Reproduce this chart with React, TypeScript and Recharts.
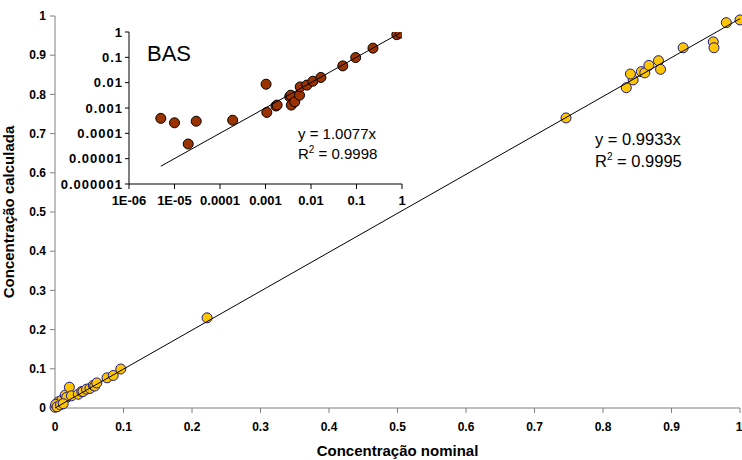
import React from "react"
import { ScatterChart, Scatter, XAxis, YAxis } from "recharts"

// ── Data ──────────────────────────────────────────────────────
// main plot: all compounds, nominal vs calculated
const mainNominal = [
  0, 0.002, 0.005, 0.01, 0.015, 0.017, 0.021, 0.024, 0.034, 0.039, 0.041, 0.046,
  0.051, 0.056, 0.058, 0.061, 0.076, 0.085, 0.096, 0.222, 0.746, 0.834, 0.844,
  0.84, 0.856, 0.861, 0.867, 0.881, 0.884, 0.917, 0.961, 0.962, 0.98, 1.0,
  0.001, 0.003, 0.008, 0.012,
]
const mainCalculated = [
  0.002, 0.007, 0.016, 0.02, 0.033, 0.027, 0.053, 0.031, 0.035, 0.042, 0.042, 0.048,
  0.05, 0.058, 0.056, 0.064, 0.077, 0.083, 0.0995, 0.23, 0.74, 0.817, 0.837,
  0.852, 0.858, 0.855, 0.874, 0.886, 0.864, 0.919, 0.934, 0.919, 0.983, 0.99,
  0.009, 0.003, 0.008, 0.011,
]

// inset: BAS only (log-log)
const basNominal = [
  5e-6, 1e-5, 2e-5, 3e-5, 1.9e-4, 1.03e-3, 1.07e-3, 1.7e-3, 1.8e-3, 3.4e-3, 3.6e-3,
  3.7e-3, 4.4e-3, 5.6e-3, 5.8e-3, 8.1e-3, 0.011, 0.0165, 0.05, 0.096, 0.23, 0.77, 0.92,
]
const basCalculated = [
  3.9e-4, 2.6e-4, 3.8e-5, 3e-4, 3.3e-4, 8.7e-3, 6.7e-4, 1.2e-3, 1.3e-3, 2.8e-3, 3.2e-3,
  1.3e-3, 1.75e-3, 3.2e-3, 6.8e-3, 8e-3, 0.0114, 0.016, 0.046, 0.098, 0.23, 0.785, 0.91,
]

const mainSlope = 0.9933
const basSlope = 1.0077
const mainFitRange = [0, 1]
const basFitRange = [5e-6, 0.92]

const mainTicks = [0, 0.1, 0.2, 0.3, 0.4, 0.5, 0.6, 0.7, 0.8, 0.9, 1]
const logTicks = [1e-6, 1e-5, 1e-4, 1e-3, 1e-2, 1e-1, 1]
const insetXLabels = ["1E-06", "1E-05", "0.0001", "0.001", "0.01", "0.1", "1"]
const insetYLabels = ["0.000001", "0.00001", "0.0001", "0.001", "0.01", "0.1", "1"]

const FONT = "'Liberation Sans', Arial, sans-serif"
const YELLOW = "#FFC600"
const NAVY = "#1A1A8C"
const BROWN = "#9A3300"

const mainData = mainNominal.map((x, i) => ({ x, y: mainCalculated[i] }))
const basData = basNominal.map((x, i) => ({ x, y: basCalculated[i] }))
const mainFit = mainFitRange.map((x) => ({ x, y: x * mainSlope }))
const basFit = basFitRange.map((x) => ({ x, y: x * basSlope }))

const tickStyle = { fontSize: 12, fontWeight: 700, fill: "#000", fontFamily: FONT }
const insetXTickStyle = { fontSize: 13, fontWeight: 700, fill: "#000", fontFamily: FONT }
const insetYTickStyle = { ...insetXTickStyle, letterSpacing: 1 }
const titleStyle = { fontSize: 15, fontWeight: 700, fill: "#000", fontFamily: FONT }

function Dot({ cx, cy, fill, stroke }: { cx?: number; cy?: number; fill: string; stroke: string }) {
  if (cx == null || cy == null) return null
  return <circle cx={cx} cy={cy} r={5} fill={fill} stroke={stroke} strokeWidth={1} />
}

const noShape = () => <g />

export default function App() {
  return (
    <div style={{ position: "absolute", left: 0, top: 0, width: 742, height: 460, background: "#fff", fontFamily: FONT }}>
      {/* ── Main chart ── */}
      <div style={{ position: "absolute", left: 0, top: 0 }}>
        <ScatterChart width={742} height={460} margin={{ top: 16, right: 2, left: 0, bottom: 2 }}>
          <XAxis
            type="number"
            dataKey="x"
            domain={[0, 1]}
            ticks={mainTicks}
            tickFormatter={(v) => String(v)}
            tick={tickStyle}
            tickSize={5}
            tickMargin={9}
            axisLine={{ stroke: "#808080" }}
            tickLine={{ stroke: "#808080" }}
            height={50}
            label={{
              value: "Concentração nominal",
              position: "insideBottom",
              offset: 2,
              style: titleStyle,
            }}
          />
          <YAxis
            type="number"
            dataKey="y"
            domain={[0, 1]}
            ticks={mainTicks}
            tickFormatter={(v) => String(v)}
            tick={tickStyle}
            tickSize={5}
            tickMargin={4}
            axisLine={{ stroke: "#808080" }}
            tickLine={{ stroke: "#808080" }}
            width={55}
            label={{
              value: "Concentração calculada",
              angle: -90,
              position: "insideLeft",
              offset: 9,
              style: { ...titleStyle, textAnchor: "middle" },
            }}
          />
          <Scatter
            data={mainData}
            isAnimationActive={false}
            shape={(p: any) => <Dot cx={p.cx} cy={p.cy} fill={YELLOW} stroke={NAVY} />}
          />
          <Scatter
            data={mainFit}
            isAnimationActive={false}
            line={{ stroke: "#000", strokeWidth: 1 }}
            shape={noShape}
          />
        </ScatterChart>
      </div>

      {/* ── Inset: BAS log-log ── */}
      <div style={{ position: "absolute", left: 0, top: 0 }}>
        <ScatterChart width={420} height={215} margin={{ top: 32, right: 18, left: 59, bottom: 6 }}>
          <XAxis
            type="number"
            dataKey="x"
            scale="log"
            domain={[1e-6, 1]}
            ticks={logTicks}
            allowDataOverflow
            tickFormatter={(v) => insetXLabels[logTicks.indexOf(v)] ?? String(v)}
            tick={insetXTickStyle}
            tickSize={5}
            tickMargin={7}
            interval={0}
            axisLine={{ stroke: "#000" }}
            tickLine={{ stroke: "#000" }}
            height={25}
          />
          <YAxis
            type="number"
            dataKey="y"
            scale="log"
            domain={[1e-6, 1]}
            ticks={logTicks}
            allowDataOverflow
            tickFormatter={(v) => insetYLabels[logTicks.indexOf(v)] ?? String(v)}
            tick={insetYTickStyle}
            tickSize={4}
            tickMargin={2}
            interval={0}
            axisLine={{ stroke: "#000" }}
            tickLine={{ stroke: "#000" }}
            width={70}
          />
          <Scatter
            data={basData}
            isAnimationActive={false}
            shape={(p: any) => <Dot cx={p.cx} cy={p.cy} fill={BROWN} stroke="#000" />}
          />
          <Scatter
            data={basFit}
            isAnimationActive={false}
            line={{ stroke: "#000", strokeWidth: 1 }}
            shape={noShape}
          />
        </ScatterChart>
      </div>

      {/* ── Text annotations ── */}
      <div style={{ position: "absolute", left: 147, top: 41, fontSize: 22 }}>BAS</div>
      <div style={{ position: "absolute", left: 298, top: 124, fontSize: 15, lineHeight: "20px" }}>
        y = 1.0077x
        <br />
        R<sup style={{ fontSize: 10, verticalAlign: "6px", lineHeight: 0 }}>2</sup> = 0.9998
      </div>
      <div style={{ position: "absolute", left: 595, top: 128, fontSize: 16.5, lineHeight: "22px" }}>
        y = 0.9933x
        <br />
        R<sup style={{ fontSize: 10, verticalAlign: "7px", lineHeight: 0 }}>2</sup> = 0.9995
      </div>
    </div>
  )
}
